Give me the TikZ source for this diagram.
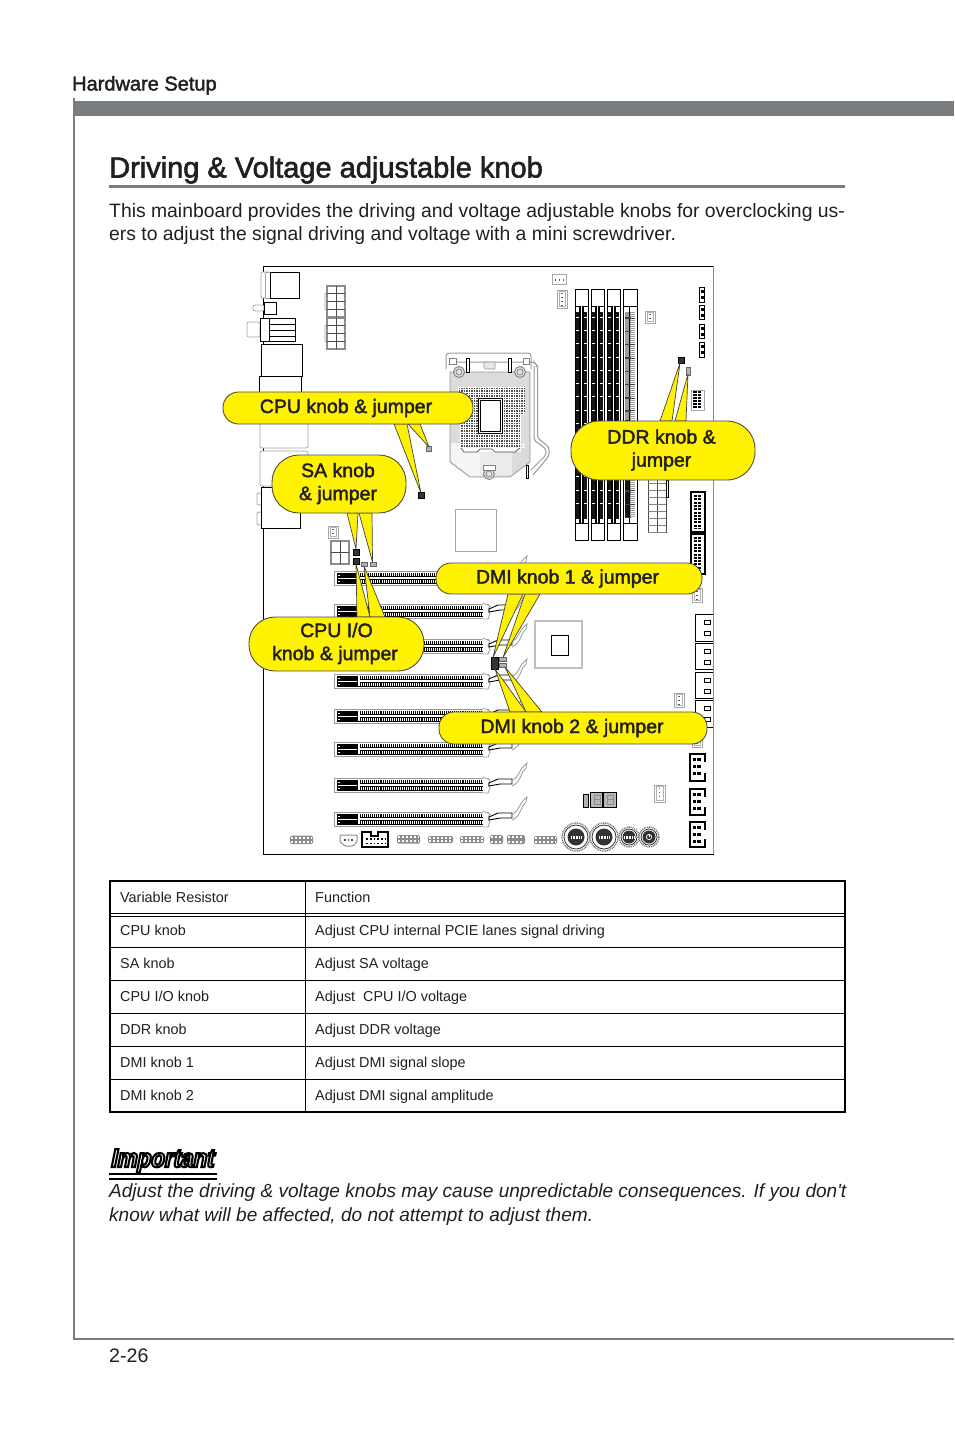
\documentclass[tikz,border=0pt]{standalone}
\usepackage{fontspec}
\setmainfont{Liberation Sans}
\newfontfamily\softbold[FakeBold=2]{Liberation Sans}
\newfontfamily\impfont[FakeBold=8,FakeSlant=0.2,FakeStretch=0.86]{Liberation Sans Bold}
\newfontfamily\noteit{Liberation Sans Italic}
\usetikzlibrary{calc}
\definecolor{ink}{HTML}{231F20}
\definecolor{band}{HTML}{7A7D7F}
\definecolor{callout}{HTML}{FFF200}
\definecolor{pingray}{HTML}{8C8C8C}
\tikzset{
  bk/.style={draw=black,line width=.8pt,fill=white},
  gy/.style={draw=pingray,line width=.8pt,fill=white},
  lg/.style={draw=black!35,line width=.8pt,fill=white},
  txt/.style={inner sep=0pt,text=ink,anchor=base west},
  cell/.style={inner sep=0pt,text=ink,anchor=base west,font=\fontsize{14.4}{17}\selectfont},
  bubble/.style={draw=ink!80,line width=.9pt,fill=callout,text=ink,rounded corners=#1,align=center,inner sep=0pt,
     font=\softbold\fontsize{19.5}{23}\selectfont},
  ptr/.style={draw=ink!85,line width=.7pt,fill=callout,line join=round},
  jmp/.style={draw=black,fill=black!80,line width=.4pt,inner sep=0pt,minimum width=#1,minimum height=#1},
  jmpg/.style={draw=black!60,fill=black!30,line width=.4pt,inner sep=0pt,minimum width=#1,minimum height=#1},
  tl/.style={line width=1pt,draw=black},
}
\newcommand{\blines}[2]{\raisebox{#1}{\begin{tabular}{@{}c@{}}#2\end{tabular}}}
\newcommand{\pinrow}[4]{%
  \fill[pingray,rounded corners=1.5pt] (#1,#3) rectangle (#2,#4);
  \draw[white,line width=2pt,dash pattern=on 2pt off 2pt] (#1+1,{#3+2.2}) -- (#2-1,{#3+2.2});
  \draw[white,line width=2pt,dash pattern=on 2pt off 2pt] (#1+1,{#4-2.2}) -- (#2-1,{#4-2.2});
}
\newcommand{\fanv}[4]{%
  \draw[lg] (#1,#3) rectangle (#2,#4);
  \draw[draw=black!65,line width=1.5pt,dash pattern=on 1.5pt off 2.5pt] ({(#1+#2)/2},{#3+2.5}) -- ({(#1+#2)/2},{#4-2});
  \draw[draw=black!30,line width=.5pt] ({#1+2},{#3+1.5}) rectangle ({#2-2},{#4-1.5});
}
\newcommand{\fanh}[4]{%
  \draw[lg] (#1,#3) rectangle (#2,#4);
  \draw[draw=black!65,line width=1.5pt,dash pattern=on 1.5pt off 2.5pt] ({#1+2.5},{(#3+#4)/2+1}) -- ({#2-2},{(#3+#4)/2+1});
}
\newcommand{\dimmslot}[1]{%
  \draw[bk] (#1,289) rectangle ({#1+13},540);
  \draw[black,line width=.8pt] (#1,306) -- ({#1+13},306) (#1,523) -- ({#1+13},523);
  \fill[black!92] ({#1+1},312) rectangle ({#1+12},518.5);
  \draw[black,line width=2.4pt] ({#1+5.4},306) -- ({#1+5.4},523) ({#1+8.2},306) -- ({#1+8.2},523);
  \draw[white,line width=1.2pt] ({#1+6.8},306) -- ({#1+6.8},523);
  \foreach \q in {317,330.3,...,515}{\draw[white,line width=.8pt] ({#1+1},\q) -- ({#1+4},\q) ({#1+8.5},\q) -- ({#1+11.5},\q);}
}
\begin{document}
\begin{tikzpicture}[x=1pt,y=-1pt]
\useasboundingbox (0,0) rectangle (954,1432);
\fill[white] (0,0) rectangle (954,1432);
% page furniture
\fill[band] (72.5,98) rectangle (75,1340);
\fill[band] (72.5,101) rectangle (954,116);
\fill[band] (72.5,1338) rectangle (954,1340);
\fill[band] (109,185) rectangle (845,188);
\node[txt,font=\softbold\fontsize{20}{24}\selectfont] (head) at (72,90.5) {Hardware Setup};
\node[txt,font=\softbold\fontsize{29}{34}\selectfont] (title) at (109,177.5) {Driving \& Voltage adjustable knob};
\node[inner sep=0pt,text=ink,anchor=west,align=left,font=\fontsize{19.35}{23}\selectfont] (intro) at (109,223.5) {This mainboard provides the driving and voltage adjustable knobs for overclocking us-\\ers to adjust the signal driving and voltage with a mini screwdriver.};
\node[txt,font=\fontsize{19.6}{24}\selectfont] (pageno) at (109,1362) {2-26};
% board
\draw[draw=black,line width=1pt] (714,266) -- (263,266) -- (263,854) -- (714,854);
\draw[draw=black!45,line width=1pt] (713.5,266) -- (713.5,854);
% back panel
\draw[lg,rounded corners=1pt] (261,272) rectangle (270,298);
\draw[lg] (265,272) rectangle (270,298);
\draw[bk] (270,272) rectangle (299,298);
\draw[lg,rounded corners=2pt] (253,305) rectangle (264,311);
\draw[bk] (264,302) rectangle (276,314);
\draw[lg,rounded corners=2pt] (247,322) rectangle (260,337);
\draw[bk] (260,318) rectangle (295,341);
\draw[black,line width=.7pt] (269,318) -- (269,341) (269,324) -- (295,324) (269,330) -- (295,330) (269,336) -- (295,336);
\draw[bk] (261,344) rectangle (302,376);
\draw[bk] (259,376) rectangle (301,395);
\draw[lg,rounded corners=2pt] (260,420) rectangle (308,448);
\draw[lg,rounded corners=2pt] (260,451) rectangle (308,486);
\draw[lg,rounded corners=2pt] (257,493) rectangle (262,505);
\draw[lg,rounded corners=2pt] (257,512) rectangle (262,525);
\draw[bk] (261,487) rectangle (300,528);
% CPU power
\foreach \ya/\yb in {286/317,318/349}{
  \draw[lg,rounded corners=1pt] (325,{\ya+7}) rectangle (328,{\yb-7});
  \draw[gy,line width=1.2pt] (327,\ya) rectangle (345,\yb);
  \draw[draw=black!70,line width=.5pt] (336,\ya) -- (336,\yb) (327,{\ya+7}) -- (345,{\ya+7}) (327,{\ya+15}) -- (345,{\ya+15}) (327,{\ya+23}) -- (345,{\ya+23});
}
\fanv{328}{338}{526}{538}
\draw[gy,line width=1.2pt] (331,541) rectangle (349,564);
\draw[draw=black!70,line width=.5pt] (340,541) -- (340,564) (331,552) -- (349,552);
% socket
\draw[draw=black!40,fill=white,line width=1pt,rounded corners=3pt] (446,369) -- (446,353) -- (531,353) -- (531,369);
\draw[draw=black!40,line width=1pt,rounded corners=3pt] (450,362) -- (534,362) -- (537.5,366) -- (537.5,438) -- (549,447) -- (549,456) -- (533,475);
\draw[draw=black!40,line width=1pt,rounded corners=2pt] (534,366) -- (534,440) -- (546,449) -- (546,455) -- (531,470);
\path[draw=black!40,fill=black!14,line width=.8pt] (450,372) -- (530,372) -- (530,462) -- (510,477) -- (470,477) -- (450,462) -- cycle;
\fill[black!4] (451,443) -- (480,443) -- (480,476) -- (470,476) -- (451,461) -- cycle;
\fill[black!8] (480,443) -- (512,443) -- (512,475) -- (480,476) -- cycle;
\fill[white] (460,446) rectangle (521,452);
\draw[draw=black!70,line width=.7pt] (460,447) -- (464,452) -- (477,452) -- (480,449) -- (486,449) -- (492,449) -- (495,452) -- (515,452) -- (521,447);
\fill[black!70] (461,387) -- (525,387) -- (525,412) -- (521,415) -- (521,447) -- (460,447) -- (460,414) -- (458,412) -- (458,390) -- cycle;
\foreach \i in {0,2.5,...,67}{\draw[white,line width=.4pt] ({458+\i},387) -- ({458+\i},447);}
\foreach \i in {0,2.5,...,60}{\draw[white,line width=.4pt] (458,{387+\i}) -- (525,{387+\i});}
\fill[black!14] (525.2,386) rectangle (527,416) (521.3,415) rectangle (527,443) (456,412.3) rectangle (459.8,443) (456,386) rectangle (457.8,413);
\draw[bk,line width=1pt] (478,398) rectangle (502,433);
\draw[draw=black,line width=.8pt] (480,400) rectangle (500,431);
\foreach \cx/\cy in {459/372,520/372,489/474}{\draw[draw=black!50,fill=black!12,line width=.9pt] (\cx,\cy) circle (5.5);\draw[draw=black!50,line width=.7pt] (\cx,\cy) circle (3);}
\draw[draw=black!50,fill=white,line width=.7pt] (449,358) rectangle (456,364) (523,358) rectangle (529,364) (483,465) rectangle (495,470);
\draw[draw=black!40,fill=black!10,line width=.7pt,rounded corners=1pt] (484,362) rectangle (495,369);
\draw[draw=black,line width=.9pt,fill=white] (466,358) rectangle (469,372);
\draw[draw=black,line width=.9pt,fill=white] (508,358) rectangle (511,372);
\draw[draw=black,line width=.9pt,fill=white] (526,465) rectangle (528.5,478);
\draw[lg] (455,509) rectangle (496,551);
% memory
\dimmslot{575}
\dimmslot{591}
\dimmslot{607}
\draw[bk] (623,289) rectangle (637,540);
\draw[black,line width=.8pt] (623,306) -- (637,306) (623,523) -- (637,523);
\fill[black!38] (625,312) rectangle (635,518);
\fill[black!92] (625,420) rectangle (629.5,518);
\draw[black,line width=1.1pt] (629.5,306) -- (629.5,523);
\foreach \i in {0,13.3,...,204}{\draw[black!75,line width=1.4pt] (625,{318+\i}) -- (635,{318+\i});}
\foreach \i in {0,2,...,204}{\draw[white,line width=.5pt] (630.5,{313+\i}) -- (635,{313+\i});}
% top right headers
\fanh{552}{566}{274}{284}
\fanv{557}{567}{290}{308}
\fanv{645}{655}{311}{323}
\foreach \ya/\yb in {287/302,305/319,324/338,342/357}{
  \draw[bk,line width=1pt] (699.5,\ya) rectangle (704.5,\yb);
  \fill[black] (700.5,{\ya+3}) rectangle (703.5,{\ya+6});
  \fill[black] (700.5,{\ya+9}) rectangle (703.5,{\ya+12});
}
\draw[lg] (691,390) rectangle (704,410);
\draw[draw=black,line width=3.5pt,dash pattern=on 2pt off 1pt] (695,391) -- (695,409);
\draw[draw=black,line width=3.5pt,dash pattern=on 2pt off 1pt] (699.5,391) -- (699.5,409);
% ATX and IDE-style headers
\draw[bk,draw=black!70] (648,470) rectangle (666,532);
\draw[draw=black,fill=white,line width=.6pt] (666,480) rectangle (668,497);
\draw[draw=black!70,line width=.5pt] (657,470) -- (657,532);
\foreach \i in {0,7,...,56}{\draw[draw=black!50,line width=.5pt] (648,{476+\i}) -- (666,{476+\i});}
\foreach \ya/\yb in {492/532,534/574}{
  \draw[bk,line width=1.2pt] (691,\ya) rectangle (705,\yb);
  \draw[draw=black,line width=2.6pt,dash pattern=on 2pt off 1.3pt] (695.5,{\ya+3}) -- (695.5,{\yb-3});
  \draw[draw=black,line width=2.6pt,dash pattern=on 2pt off 1.3pt] (699.5,{\ya+3}) -- (699.5,{\yb-3});
}
\fanv{692}{702}{588}{602}
% PCIe slots
\foreach \y in {571,604,639,674,709,742,778,812}{
  \draw[draw=black!40,fill=white,line width=.9pt] (334,\y) rectangle (488,{\y+14});
  \fill[black] (336.5,{\y+1.5}) rectangle (486,{\y+12.5});
  \draw[white,line width=1.3pt] (360,{\y+7}) -- (484,{\y+7});
  \draw[white,line width=1.3pt] (338,{\y+7.5}) -- (357,{\y+7.5});
  \draw[white,line width=1pt] (338,{\y+4}) -- (340,{\y+4}) (338,{\y+10.5}) -- (340,{\y+10.5});
  \draw[white,line width=2.4pt] (359,{\y+2}) -- (359,{\y+12});
  \draw[white,line width=2.6pt,dash pattern=on 1pt off 1.05pt] (361,{\y+3.5}) -- (484,{\y+3.5});
  \draw[white,line width=2.6pt,dash pattern=on 1pt off 1.05pt] (361,{\y+10.5}) -- (484,{\y+10.5});
  \draw[draw=black!35,line width=.9pt,fill=white] (483,{\y-1}) -- (490,{\y+2}) -- (488,{\y+6}) -- (490,{\y+10}) -- (488,{\y+15}) -- (483,{\y+15});
  \draw[draw=black!40,line width=.8pt] (513,{\y+2}) .. controls (519,{\y-1}) and (519,{\y-9}) .. (527,{\y-15}) -- (526,{\y-10}) .. controls (520,{\y-6}) and (522,{\y+4}) .. (512,{\y+8});
  \draw[draw=black,line width=.9pt,fill=white] (489,{\y+5}) -- (498,{\y+1}) -- (512,{\y+1}) -- (512,{\y+6}) -- (500,{\y+6}) -- (489,{\y+8}) -- cycle;
}
% chipset
\draw[draw=black!25,line width=1.1pt] (535,621) rectangle (582,668);
\draw[draw=black,line width=.9pt] (551,635) rectangle (568,655);
% right-hand connectors
\foreach \ya/\yb in {614/641,643/669,672/698,700/727}{
  \draw[bk,line width=1pt] (713,\ya) -- (695,\ya) -- (695,\yb) -- (713,\yb);
  \draw[draw=black,line width=.8pt] (704,{\ya+6}) rectangle (710,{\ya+10});
  \draw[draw=black,line width=.8pt] (704,{\ya+17}) rectangle (710,{\ya+21});
}
\fanv{674}{684}{693}{707}
\fanv{692}{702}{736}{747}
\foreach \ya/\yb in {754/781,789/815,822/847}{
  \draw[bk,line width=1.1pt] (690,\ya) rectangle (705,\yb);
  \draw[draw=white,line width=2.5pt] (705,{\ya+8}) -- (705,{\yb-8});
  \fill[black] (692.5,{\ya+4}) rectangle (696,{\ya+7});
  \fill[black] (697,{\ya+4}) rectangle (700.5,{\ya+7});
  \fill[black] (692.5,{\ya+11}) rectangle (696,{\ya+14});
  \fill[black] (697,{\ya+11}) rectangle (700.5,{\ya+14});
  \fill[black] (692.5,{\ya+18}) rectangle (696,{\ya+21});
  \fill[black] (697,{\ya+18}) rectangle (700.5,{\ya+21});
}
\fanv{654}{665}{785}{802}
% debug display and buttons
\draw[draw=black,fill=black!28,line width=.9pt] (590,792) rectangle (616,807);
\draw[draw=black,line width=1.2pt] (603,792) -- (603,807);
\draw[draw=black!45,line width=.9pt] (594,795) rectangle (600,804) (607,795) rectangle (613,804);
\draw[draw=black!45,line width=.9pt] (594,799.5) -- (600,799.5) (607,799.5) -- (613,799.5);
\draw[bk,fill=black!30,line width=.6pt] (583,794) rectangle (588,807);
\foreach \cx/\r/\ri in {576/14/8.5,604/14/8.5,629/10/6.5,649/10/6.5}{
  \draw[draw=black!55,fill=white,line width=1.4pt,dash pattern=on 1pt off .8pt] (\cx,837) circle (\r);
  \draw[draw=black!80,fill=white,line width=.8pt] (\cx,837) circle ({\r-2});
  \fill[black!80] (\cx,837) circle (\ri);
}
\draw[white,line width=.8pt] (649,834) -- (649,837);
\draw[white,line width=.7pt] (649,837) circle (2.6);
\foreach \cx in {571,599,624}{\draw[white,line width=3pt,dash pattern=on .8pt off .8pt] (\cx,837) -- ({\cx+10},837);}
% bottom edge headers
\pinrow{290}{313}{835.5}{844}
\draw[gy,line width=1pt,rounded corners=1pt] (340,835) -- (357,835) -- (357,842) -- (353,846) -- (345,846) -- (340,842) -- cycle;
\draw[draw=black!70,line width=1.2pt,dash pattern=on 1.5pt off 2pt] (344,840) -- (354,840);
\draw[bk,line width=1.1pt] (362,836) -- (362,847) -- (388,847) -- (388,832) -- (378,832) -- (378,836) -- (371,836) -- (371,832) -- (362,832) -- cycle;
\draw[draw=black,line width=1.6pt,dash pattern=on 1.8pt off 2pt] (366,839) -- (386,839) (366,843.5) -- (386,843.5);
\pinrow{397}{420}{835}{843.5}
\pinrow{428}{453}{836}{843}
\pinrow{460}{484}{836}{843}
\pinrow{490}{503}{835}{844}
\pinrow{507}{525}{835}{844}
\pinrow{534}{557}{836}{844}
% small jumpers
\node[jmp=6pt] (jcpu) at (421,495) {};
\node[jmpg=5pt] (jcpug) at (429,449) {};
\node[jmp=6pt] (jsa) at (356,552) {};
\node[jmpg=6pt,minimum height=4pt] (jsag) at (373,564) {};
\node[jmp=6pt] (jio) at (356,561.5) {};
\node[jmpg=6pt,minimum height=4pt] (jiog) at (364,564) {};
\node[jmp=6pt] (jddr) at (681.5,360) {};
\node[jmpg=4pt,minimum height=8pt] (jddrg) at (688,371) {};
\node[jmp=7pt,minimum height=12pt] (jdmi) at (494.5,663) {};
\node[jmpg=7pt,minimum height=4pt] (jdmia) at (503,659) {};
\node[jmpg=7pt,minimum height=4pt] (jdmib) at (503,665) {};
% pointers
\coordinate (tcpu) at (421,493);
\coordinate (tcpug) at (429,447);
\coordinate (tsa) at (356,549);
\coordinate (tsag) at (372.5,562);
\coordinate (tio) at (356,564);
\coordinate (tiog) at (364,566);
\coordinate (tddr) at (680,363);
\coordinate (tddrg) at (688,374);
\coordinate (td1) at (493,657.5);
\coordinate (td1g) at (503,657.5);
\coordinate (td2) at (495,669);
\coordinate (td2g) at (505,667);
\draw[ptr] (tcpu) -- (394,424) -- (407,424) -- cycle;
\draw[ptr] (tcpug) -- (408,424) -- (420,424) -- cycle;
\draw[ptr] (tsa) -- (347,513) -- (358,513) -- cycle;
\draw[ptr] (tsag) -- (359,513) -- (372,513) -- cycle;
\draw[ptr] (tio) -- (357,617) -- (370,617) -- cycle;
\draw[ptr] (tiog) -- (370,617) -- (385,617) -- cycle;
\draw[ptr] (tddr) -- (660,421) -- (672,421) -- cycle;
\draw[ptr] (tddrg) -- (675,421) -- (686,421) -- cycle;
\draw[ptr] (td1) -- (508,594) -- (523,594) -- cycle;
\draw[ptr] (td1g) -- (525,594) -- (540,594) -- cycle;
\draw[ptr] (td2) -- (510,712) -- (526,712) -- cycle;
\draw[ptr] (td2g) -- (526,712) -- (542,712) -- cycle;
% callouts
\node[bubble=15.5pt,minimum width=250pt,minimum height=32pt] (bcpu) at (348,408) {\hspace*{-4pt}\raisebox{-1pt}{CPU knob \& jumper}};
\node[bubble=27pt,minimum width=134pt,minimum height=58pt] (bsa) at (339,484) {\hspace*{-2pt}\blines{1pt}{SA knob\\\& jumper}};
\node[bubble=26pt,minimum width=175pt,minimum height=54pt] (bio) at (336.5,644) {\hspace*{-3pt}\blines{0.5pt}{\hspace*{3pt}CPU I/O\\knob \& jumper}};
\node[bubble=28pt,minimum width=184pt,minimum height=59pt] (bddr) at (663,450.5) {\hspace*{-3pt}\blines{2.5pt}{DDR knob \&\\jumper}};
\node[bubble=15pt,minimum width=266pt,minimum height=31pt] (bd1) at (569,578.5) {\hspace*{-3pt}\raisebox{-1pt}{DMI knob 1 \& jumper}};
\node[bubble=15pt,minimum width=268pt,minimum height=32pt] (bd2) at (573,728) {\hspace*{-2pt}DMI knob 2 \& jumper};
% table
\draw[draw=black,line width=2pt] (110,881) rectangle (845,1112);
\draw[draw=black,line width=.7pt] (305,881) -- (305,1112);
\draw[tl] (110,913.5) -- (845,913.5);
\draw[tl] (110,916) -- (845,916);
\foreach \y in {947,980,1013,1046,1079}{\draw[tl] (110,\y) -- (845,\y);}
\node[cell] (a0) at (120,902) {Variable Resistor};
\node[cell] (b0) at (315,902) {Function};
\node[cell] (a1) at (120,935) {CPU knob};
\node[cell] (b1) at (315,935) {Adjust CPU internal PCIE lanes signal driving};
\node[cell] (a2) at (120,968) {SA knob};
\node[cell] (b2) at (315,968) {Adjust SA voltage};
\node[cell] (a3) at (120,1001) {CPU I/O knob};
\node[cell] (b3) at (315,1001) {Adjust\ \ CPU I/O voltage};
\node[cell] (a4) at (120,1034) {DDR knob};
\node[cell] (b4) at (315,1034) {Adjust DDR voltage};
\node[cell] (a5) at (120,1067) {DMI knob 1};
\node[cell] (b5) at (315,1067) {Adjust DMI signal slope};
\node[cell] (a6) at (120,1100) {DMI knob 2};
\node[cell] (b6) at (315,1100) {Adjust DMI signal amplitude};
% important note
\node[inner sep=0pt,anchor=base west,font=\impfont\fontsize{26}{28}\selectfont] (imp) at (110,1167) {\special{pdf:bcolor [1] [0]}Important\special{pdf:ecolor}};
\fill[black] (109,1172.5) rectangle (217,1174.5);
\fill[black] (109,1177.5) rectangle (217,1179.5);
\node[inner sep=0pt,text=ink,anchor=west,align=left,font=\noteit\fontsize{19.05}{24}\selectfont] (note) at (109,1205) {Adjust the driving \& voltage knobs may cause unpredictable consequences. If you don't\\know what will be affected, do not attempt to adjust them.};
\end{tikzpicture}
\end{document}
